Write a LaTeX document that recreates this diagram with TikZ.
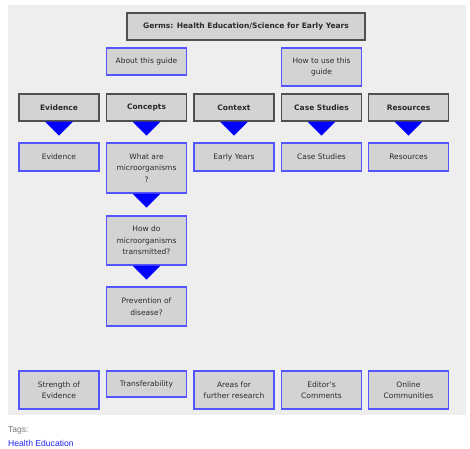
\documentclass[tikz,border=0pt]{standalone}
\usepackage{fontspec}
\setmainfont{DejaVu Sans}
\newfontfamily\arialfont{Liberation Sans}
\definecolor{bgpanel}{HTML}{EEEEEE}
\definecolor{boxfill}{HTML}{D3D3D3}
\definecolor{bluebord}{HTML}{5555FF}
\definecolor{darkbord}{HTML}{505050}
\definecolor{txtcol}{HTML}{2A2A2A}
\definecolor{tagcol}{HTML}{7A7A7A}
\definecolor{linkcol}{HTML}{2222EE}
\tikzset{
  boxbase/.style={rectangle, fill=boxfill, inner sep=0pt, minimum width=80pt, align=center,
    text=txtcol, font=\fontsize{7.5}{11.5}\selectfont, line width=1.1pt},
  linkbox/.style={boxbase, draw=bluebord},
  headbox/.style={boxbase, draw=darkbord, minimum height=27pt, font=\bfseries\fontsize{7.5}{11.5}\selectfont},
  tri/.style={fill=blue}
}
\newcommand{\downtri}[1]{\fill[tri] ([xshift=-14pt]#1.south) -- ([xshift=14pt]#1.south) -- ++(-14,14) -- cycle;}
\begin{document}
\begin{tikzpicture}[x=1pt,y=-1pt]
\useasboundingbox (0,0) rectangle (470,448);
\fill[white] (0,0) rectangle (470,448);
\fill[bgpanel] (8,5) rectangle (466,415);

\node[headbox, minimum width=238pt] (title) at (246,26.5) {Germs: Health Education/Science for Early Years};

\node[linkbox, minimum height=27pt] (about) at (146.5,61.5) {About this guide};
\node[linkbox, minimum height=38pt] (howto) at (321.5,67) {How to use this\\guide};

\node[headbox] (hev) at (59,107.5) {Evidence};
\node[headbox] (hco) at (146.5,107.5) {Concepts};
\node[headbox] (hcx) at (234,107.5) {Context};
\node[headbox] (hcs) at (321.5,107.5) {Case Studies};
\node[headbox] (hre) at (408.5,107.5) {Resources};

\downtri{hev}
\downtri{hco}
\downtri{hcx}
\downtri{hcs}
\downtri{hre}

\node[linkbox, minimum height=28pt] (ev) at (59,157) {Evidence};
\node[linkbox, minimum height=50pt] (what) at (146.5,168) {What are\\microorganisms\\?};
\node[linkbox, minimum height=28pt] (ey) at (234,157) {Early Years};
\node[linkbox, minimum height=28pt] (cs) at (321.5,157) {Case Studies};
\node[linkbox, minimum height=28pt] (res) at (408.5,157) {Resources};

\downtri{what}
\node[linkbox, minimum height=49pt] (how) at (146.5,240.5) {How do\\microorganisms\\transmitted?};
\downtri{how}
\node[linkbox, minimum height=39pt] (prev) at (146.5,306.5) {Prevention of\\disease?};

\node[linkbox, minimum height=38pt] (soe) at (59,390) {Strength of\\Evidence};
\node[linkbox, minimum height=26pt] (tra) at (146.5,384) {Transferability};
\node[linkbox, minimum height=38pt] (afr) at (234,390) {Areas for\\further research};
\node[linkbox, minimum height=38pt] (edc) at (321.5,390) {Editor's\\Comments};
\node[linkbox, minimum height=38pt] (onl) at (408.5,390) {Online\\Communities};

\node[anchor=west, inner sep=0pt, text=tagcol, font=\arialfont\fontsize{8.5}{10}\selectfont] (tags) at (8,430) {Tags:};
\node[anchor=west, inner sep=0pt, text=linkcol, font=\arialfont\fontsize{8.6}{10}\selectfont] (tagl) at (8,443) {Health Education};
\end{tikzpicture}
\end{document}
